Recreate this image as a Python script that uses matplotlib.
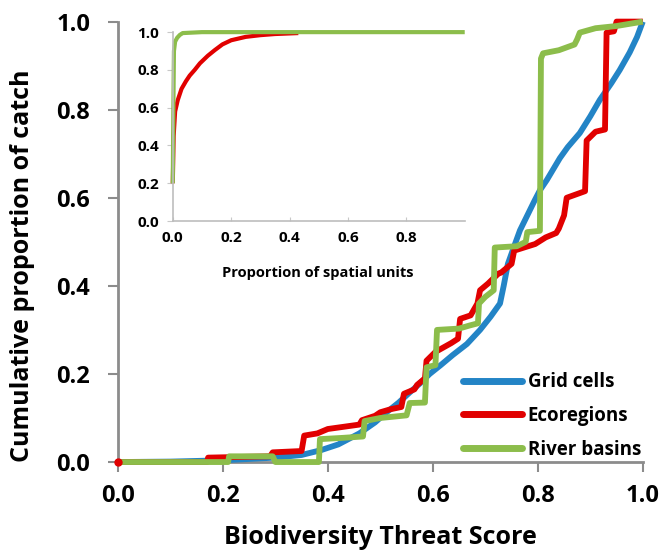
import matplotlib.pyplot as plt

# main panel: cumulative proportion of catch vs threat score
grid_x = [0.0, 0.1, 0.2, 0.3, 0.35, 0.387, 0.42, 0.46, 0.49, 0.512, 0.535, 0.556, 0.575,
          0.594, 0.615, 0.638, 0.665, 0.69, 0.71, 0.728, 0.735, 0.743, 0.755, 0.766, 0.78,
          0.794, 0.804, 0.817, 0.842, 0.857, 0.88, 0.90, 0.918, 0.94, 0.956, 0.975, 0.989, 1.0]
grid_y = [0.0, 0.001, 0.004, 0.01, 0.016, 0.027, 0.04, 0.065, 0.09, 0.113, 0.135, 0.158, 0.178,
          0.20, 0.22, 0.243, 0.268, 0.30, 0.33, 0.36, 0.40, 0.45, 0.49, 0.526, 0.56,
          0.594, 0.617, 0.64, 0.69, 0.715, 0.747, 0.785, 0.822, 0.86, 0.89, 0.93, 0.965, 1.0]

eco_x = [0.0, 0.17, 0.172, 0.29, 0.295, 0.35, 0.355, 0.38, 0.40, 0.46, 0.465, 0.49, 0.50,
         0.52, 0.54, 0.545, 0.565, 0.57, 0.585, 0.588, 0.605, 0.635, 0.648, 0.652, 0.672,
         0.685, 0.69, 0.705, 0.725, 0.73, 0.75, 0.755, 0.795, 0.815, 0.835, 0.84, 0.85,
         0.855, 0.89, 0.893, 0.91, 0.928, 0.931, 0.945, 0.95, 1.0]
eco_y = [0.0, 0.0, 0.01, 0.013, 0.022, 0.025, 0.06, 0.065, 0.075, 0.085, 0.095, 0.105, 0.113,
         0.12, 0.125, 0.155, 0.165, 0.175, 0.19, 0.23, 0.25, 0.27, 0.28, 0.325, 0.333,
         0.36, 0.39, 0.405, 0.428, 0.43, 0.45, 0.48, 0.495, 0.51, 0.52, 0.53, 0.56,
         0.60, 0.615, 0.73, 0.75, 0.755, 0.975, 0.978, 1.0, 1.0]

river_x = [0.0, 0.21, 0.212, 0.295, 0.30, 0.383, 0.385, 0.43, 0.467, 0.47, 0.50, 0.55, 0.556,
           0.585, 0.588, 0.605, 0.608, 0.65, 0.67, 0.686, 0.688, 0.70, 0.716, 0.718, 0.76,
           0.777, 0.78, 0.804, 0.806, 0.81, 0.84, 0.87, 0.875, 0.88, 0.91, 0.95, 1.0]
river_y = [0.0, 0.0, 0.013, 0.013, 0.0, 0.0, 0.052, 0.055, 0.058, 0.093, 0.10, 0.106, 0.134,
           0.135, 0.215, 0.22, 0.30, 0.303, 0.31, 0.315, 0.36, 0.375, 0.39, 0.487, 0.49,
           0.50, 0.522, 0.525, 0.916, 0.928, 0.935, 0.948, 0.96, 0.975, 0.985, 0.99, 1.0]

# inset: cumulative proportion of catch vs proportion of spatial units
ins_eco_x = [0.0, 0.003, 0.008, 0.017, 0.03, 0.045, 0.058, 0.075, 0.093, 0.12, 0.144,
             0.17, 0.2, 0.25, 0.3, 0.35, 0.43]
ins_eco_y = [0.2, 0.45, 0.58, 0.64, 0.70, 0.74, 0.77, 0.80, 0.835, 0.875, 0.905,
             0.935, 0.957, 0.975, 0.984, 0.99, 0.995]
ins_river_x = [0.0, 0.002, 0.004, 0.008, 0.015, 0.024, 0.034, 0.1, 1.0]
ins_river_y = [0.2, 0.6, 0.9, 0.95, 0.97, 0.985, 0.995, 1.0, 1.0]

ticks = [0.0, 0.2, 0.4, 0.6, 0.8, 1.0]

blue = '#2384C6'
red = '#E10000'
green = '#8CBD4B'
axis_grey = '#8C8C8C'

plt.rcParams['font.family'] = ['Open Sans', 'DejaVu Sans']
plt.rcParams['font.weight'] = 'bold'

fig = plt.figure(figsize=(6.62, 5.54), dpi=100)
ax = fig.add_axes([0.178, 0.166, 0.793, 0.795])

ax.plot(grid_x, grid_y, color=blue, lw=4.2, label='Grid cells', clip_on=False,
        solid_capstyle='butt', zorder=3)
ax.plot(eco_x, eco_y, color=red, lw=4.2, label='Ecoregions', clip_on=False,
        solid_capstyle='butt', zorder=4)
ax.plot(river_x, river_y, color=green, lw=4.2, label='River basins', clip_on=False,
        solid_capstyle='butt', zorder=5)
ax.plot([0], [0], 'o', color=red, ms=5, clip_on=False, zorder=6)

ax.set_xlim(0, 1)
ax.set_ylim(0, 1)
ax.set_xticks(ticks)
ax.set_yticks(ticks)
ax.set_xticklabels([f'{t:.1f}' for t in ticks], fontsize=17, fontweight='bold')
ax.set_yticklabels([f'{t:.1f}' for t in ticks], fontsize=17, fontweight='bold')
ax.tick_params(axis='both', direction='out', length=7, width=1.5, color=axis_grey)
ax.tick_params(axis='x', pad=9)
ax.tick_params(axis='y', pad=13)
for side in ['top', 'right']:
    ax.spines[side].set_visible(False)
for side in ['left', 'bottom']:
    ax.spines[side].set_color(axis_grey)
    ax.spines[side].set_linewidth(2)

ax.set_xlabel('Biodiversity Threat Score', fontsize=18, fontweight='bold')
ax.set_ylabel('Cumulative proportion of catch', fontsize=18, fontweight='bold')
ax.xaxis.set_label_coords(0.5, -0.143)
ax.yaxis.set_label_coords(-0.158, 0.445)

leg = ax.legend(loc='lower left', bbox_to_anchor=(0.657, 0.005), frameon=False,
                fontsize=13.5, handlelength=3.15, handletextpad=0.32, labelspacing=0.74,
                borderpad=0, borderaxespad=0)
for line in leg.get_lines():
    line.set_linewidth(5)
    line.set_solid_capstyle('round')
for txt in leg.get_texts():
    txt.set_fontweight('bold')

# inset panel
ins = fig.add_axes([0.261, 0.601, 0.441, 0.341])
ins.set_zorder(10)
ins.patch.set_facecolor('white')
ins.plot(ins_eco_x, ins_eco_y, color=red, lw=3, solid_capstyle='butt', clip_on=False)
ins.plot(ins_river_x, ins_river_y, color=green, lw=3, solid_capstyle='butt', clip_on=False)
ins.set_xlim(0, 1)
ins.set_ylim(0, 1)
ins.set_xticks(ticks[:-1])
ins.set_yticks(ticks)
ins.set_xticklabels([f'{t:.1f}' for t in ticks[:-1]], fontsize=11, fontweight='bold')
ins.set_yticklabels([f'{t:.1f}' for t in ticks], fontsize=11, fontweight='bold')
ins.tick_params(axis='x', direction='in', length=3, color='#C8C8C8', pad=7)
ins.tick_params(axis='y', direction='out', length=4, color='#C8C8C8', pad=6)
for side in ['top', 'right']:
    ins.spines[side].set_visible(False)
for side in ['left', 'bottom']:
    ins.spines[side].set_color('#BDBDBD')
    ins.spines[side].set_linewidth(1.2)
ins.set_xlabel('Proportion of spatial units', fontsize=10.5, fontweight='bold')
ins.xaxis.set_label_coords(0.497, -0.24)

fig.savefig('out.png', dpi=100)
